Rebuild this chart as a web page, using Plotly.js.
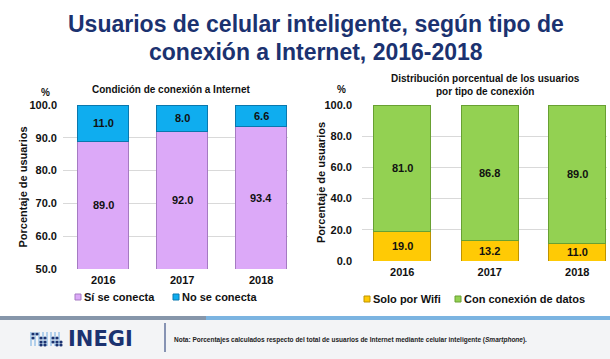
<!DOCTYPE html>
<html>
<head>
<meta charset="utf-8">
<script src="https://cdn.plot.ly/plotly-3.0.1.min.js"></script>
<style>html,body{margin:0;padding:0;background:#fff;}#chart{width:610px;height:359px;}</style>
</head>
<body>
<div id="chart"></div>
<script>
// ---- data ----
const years = ['2016', '2017', '2018'];
const siConecta = [89.0, 92.0, 93.4];
const noConecta = [11.0, 8.0, 6.6];
const soloWifi = [19.0, 13.2, 11.0];
const conDatos = [81.0, 86.8, 89.0];
const leftNames = ['Sí se conecta', 'No se conecta'];
const rightNames = ['Solo por Wifi', 'Con conexión de datos'];
const leftTickVals = [50, 60, 70, 80, 90, 100];
const rightTickVals = [0, 20, 40, 60, 80, 100];
const titleLines = ['Usuarios de celular inteligente, según tipo de', 'conexión a Internet, 2016-2018'];
const leftTitle = 'Condición de conexión a Internet';
const rightTitle = 'Distribución porcentual de los usuarios<br>por tipo de conexión';
const yTitle = 'Porcentaje de usuarios';
const note = 'Nota: Porcentajes calculados respecto del total de usuarios de Internet mediante celular inteligente (<i>Smartphone</i>).';

// ---- style ----
const W = 610, H = 359;
const px = x => x / W;
const py = y => 1 - y / H;
const FONT = 'Liberation Sans, Arial, sans-serif';
const NAVY = '#1B3270';
const colors = {
  si: ['#DCA9F8', '#A57BC2'],
  no: ['#0FADEF', '#0A78AE'],
  wifi: ['#FFCA05', '#BE9300'],
  datos: ['#93D152', '#68A032']
};

function barTrace(y, name, col, xa, ya) {
  return {
    type: 'bar', x: years, y: y, name: name,
    xaxis: xa, yaxis: ya, width: 0.65,
    marker: {color: col[0], line: {color: col[1], width: 1}},
    showlegend: false, hoverinfo: 'skip'
  };
}

const data = [
  barTrace(siConecta, leftNames[0], colors.si, 'x', 'y'),
  barTrace(noConecta, leftNames[1], colors.no, 'x', 'y'),
  barTrace(soloWifi, rightNames[0], colors.wifi, 'x2', 'y2'),
  barTrace(conDatos, rightNames[1], colors.datos, 'x2', 'y2')
];

const annotations = [];
// value labels, centred on the visible part of each segment
function addLabels(bottomVals, topVals, xref, yref, axisMin) {
  years.forEach((yr, i) => {
    const b = bottomVals[i], t = topVals[i];
    annotations.push({xref: xref, yref: yref, x: i, y: (Math.max(axisMin, 0) + b) / 2,
      text: b.toFixed(1), showarrow: false, font: {family: FONT, size: 11, color: '#111', weight: 'bold'}});
    annotations.push({xref: xref, yref: yref, x: i, y: b + t / 2,
      text: t.toFixed(1), showarrow: false, font: {family: FONT, size: 11, color: '#111', weight: 'bold'}});
  });
}
addLabels(siConecta, noConecta, 'x', 'y', 50);
addLabels(soloWifi, conDatos, 'x2', 'y2', 0);

function txt(x, y, text, size, opts) {
  annotations.push(Object.assign({xref: 'paper', yref: 'paper', x: px(x), y: py(y), text: text,
    showarrow: false, xanchor: 'center', yanchor: 'middle',
    font: {family: FONT, size: size, color: '#111', weight: 'bold'}}, opts || {}));
}
// main title
txt(316, 24, titleLines[0], 23, {font: {family: FONT, size: 23, color: NAVY, weight: 'bold'}});
txt(316, 52, titleLines[1], 23, {font: {family: FONT, size: 23, color: NAVY, weight: 'bold'}});
// chart titles
txt(171, 89, leftTitle, 10);
txt(485, 85, rightTitle, 10);
txt(45, 92, '%', 10);
txt(341, 89, '%', 10);
txt(22.5, 187, yTitle, 11, {textangle: -90});
txt(321, 183, yTitle, 11, {textangle: -90});

const shapes = [];
function rect(x0, y0, x1, y1, fill, line) {
  shapes.push({type: 'rect', xref: 'paper', yref: 'paper', x0: px(x0), x1: px(x1), y0: py(y1), y1: py(y0),
    fillcolor: fill, line: {color: line || fill, width: line ? 1 : 0}, layer: 'above'});
}
// custom legends
function legendItem(xSq, y, name, col) {
  rect(xSq, y - 3, xSq + 6, y + 3, col[0], col[1]);
  txt(xSq + 7, y, name, 11, {xanchor: 'left'});
}
legendItem(75, 297, leftNames[0], colors.si);
legendItem(173, 297, leftNames[1], colors.no);
legendItem(364, 299, rightNames[0], colors.wifi);
legendItem(455, 299, rightNames[1], colors.datos);

// footer
rect(0, 320, 610, 359, '#F3F4F6');
rect(0, 316, 206, 320, '#8696AA');
rect(206, 316, 610, 320, '#7BB4E1');
shapes.push({type: 'line', xref: 'paper', yref: 'paper', x0: px(165), x1: px(165), y0: py(323), y1: py(352),
  line: {color: NAVY, width: 1}, layer: 'above'});
// INEGI dots logo
[31, 35, 39, 43, 47, 51, 55, 59].forEach((x, i) => {
  shapes.push({type: 'line', xref: 'paper', yref: 'paper', x0: px(x), x1: px(x), y0: py(332), y1: py(346),
    line: {color: '#9CC4E8', width: 1.5}, layer: 'above'});
});
const dots = [[33, 334], [37, 334], [33, 338], [41, 338], [45, 338], [41, 342], [45, 342], [41, 345], [45, 345], [53, 338], [57, 338], [53, 342], [57, 342], [61, 342], [57, 345], [61, 345]];
dots.forEach(d => {
  shapes.push({type: 'circle', xref: 'paper', yref: 'paper', x0: px(d[0] - 1.6), x1: px(d[0] + 1.6),
    y0: py(d[1] + 1.6), y1: py(d[1] - 1.6), fillcolor: NAVY, line: {width: 0}, layer: 'above'});
});
txt(66, 339, 'INEGI', 21, {xanchor: 'left', font: {family: 'DejaVu Sans, sans-serif', size: 21, color: NAVY, weight: 'bold'}});
txt(172, 340, note, 6.5, {xanchor: 'left', font: {family: FONT, size: 6.5, color: '#222', weight: 'bold'}});

const tickFont = {family: FONT, size: 11, color: '#111', weight: 'bold'};
const layout = {
  width: W, height: H,
  margin: {l: 0, r: 0, t: 0, b: 0},
  paper_bgcolor: '#fff', plot_bgcolor: '#fff',
  barmode: 'stack', showlegend: false,
  xaxis: {domain: [px(63), px(288)], anchor: 'y', range: [-0.51, 2.34], type: 'category',
    showgrid: false, zeroline: false, showline: false, ticks: '', tickfont: tickFont, ticklabelstandoff: 3, fixedrange: true},
  yaxis: {domain: [py(269), py(105)], anchor: 'x', range: [50, 100], tickvals: leftTickVals, tickformat: '.1f',
    showgrid: true, gridcolor: '#D9D9D9', gridwidth: 1, zeroline: false, showline: false, ticks: '',
    tickfont: tickFont, ticklabelstandoff: 5, fixedrange: true},
  xaxis2: {domain: [px(362), px(607)], anchor: 'y2', range: [-0.46, 2.34], type: 'category',
    showgrid: false, zeroline: false, showline: false, ticks: '', tickfont: tickFont, ticklabelstandoff: 3, fixedrange: true},
  yaxis2: {domain: [py(261), py(105)], anchor: 'x2', range: [0, 100], tickvals: rightTickVals, tickformat: '.1f',
    showgrid: true, gridcolor: '#D9D9D9', gridwidth: 1, zeroline: false, showline: false, ticks: '',
    tickfont: tickFont, ticklabelstandoff: 9, fixedrange: true},
  annotations: annotations,
  shapes: shapes
};

Plotly.newPlot('chart', data, layout, {displayModeBar: false, staticPlot: true});
</script>
</body>
</html>
